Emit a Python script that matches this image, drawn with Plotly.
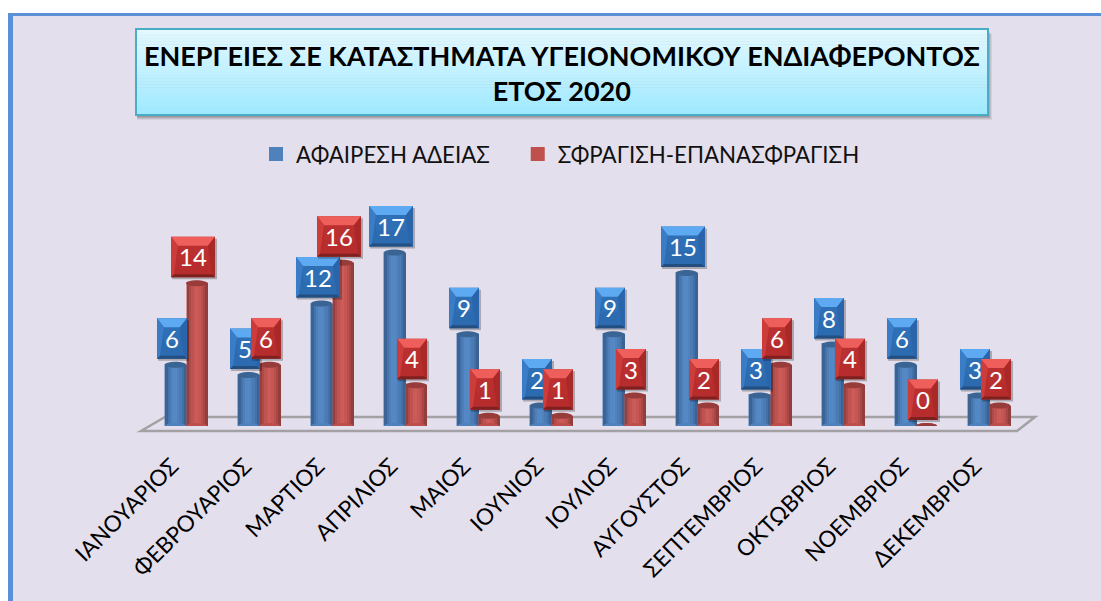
import plotly.graph_objects as go

months = ["ΙΑΝΟΥΑΡΙΟΣ", "ΦΕΒΡΟΥΑΡΙΟΣ", "ΜΑΡΤΙΟΣ", "ΑΠΡΙΛΙΟΣ", "ΜΑΙΟΣ", "ΙΟΥΝΙΟΣ",
          "ΙΟΥΛΙΟΣ", "ΑΥΓΟΥΣΤΟΣ", "ΣΕΠΤΕΜΒΡΙΟΣ", "ΟΚΤΩΒΡΙΟΣ", "ΝΟΕΜΒΡΙΟΣ", "ΔΕΚΕΜΒΡΙΟΣ"]
license_removal = [6, 5, 12, 17, 9, 2, 9, 15, 3, 8, 6, 3]
sealing = [14, 6, 16, 4, 1, 1, 3, 2, 6, 4, 0, 2]
name_a = "ΑΦΑΙΡΕΣΗ ΑΔΕΙΑΣ"
name_b = "ΣΦΡΑΓΙΣΗ-ΕΠΑΝΑΣΦΡΑΓΙΣΗ"
title_text = "ΕΝΕΡΓΕΙΕΣ ΣΕ ΚΑΤΑΣΤΗΜΑΤΑ ΥΓΕΙΟΝΟΜΙΚΟΥ ΕΝΔΙΑΦΕΡΟΝΤΟΣ<br>ΕΤΟΣ 2020"

W, H = 1101, 601
FONT = "Lato, Noto Sans"
px, py = (lambda v: v / W), (lambda v: 1 - v / H)
x = list(range(12))
BAR = 0.288
UNIT = 1 / 73
blue_shades = ["#3A6496", "#4673AA", "#4E7FB9", "#5488C4", "#5589C5", "#5082BE", "#4B7BB5", "#4370A6", "#3A6394"]
red_shades = ["#94403E", "#AE4B49", "#BE5350", "#CA5A57", "#CC5C59", "#C65653", "#BA4F4C", "#A84745", "#913E3C"]

fig = go.Figure()
shapes = []
annots = []

def rect(x0, y0, x1, y1, color, layer="below", opacity=1, line=None):
    return dict(type="rect", xref="paper", yref="paper", x0=px(x0), x1=px(x1), y0=py(y0), y1=py(y1),
                fillcolor=color, opacity=opacity, layer=layer, line=line or dict(width=0))

# page frame
shapes += [rect(0, 0, W, 13, "white"), rect(0, 0, 8, H, "white"),
           rect(8, 13, W, 16, "#5B8FD6"), rect(8, 13, 13, H, "#5B8FD6")]

# floor
f = [(141, 431), (165, 417), (1035, 417), (1017, 431)]
shapes.append(dict(type="path", xref="paper", yref="paper", layer="below",
                   path="M " + " L ".join(f"{px(a):.5f},{py(b):.5f}" for a, b in f) + " Z",
                   line=dict(color="#A3A1A3", width=2.5)))

# cylinders, one bar per shaded strip
N = len(blue_shades)
for vals, shades, start, nm, main in [(license_removal, blue_shades, -BAR, name_a + "\u00a0" * 4, "#4F81BD"),
                                      (sealing, red_shades, 0, name_b, "#C0504D")]:
    fig.add_trace(go.Bar(x=x, y=vals, name=nm, width=BAR - 2 * UNIT, offset=start + UNIT,
                         marker=dict(color=main, line=dict(color=main, width=2)), showlegend=True))
    for k, c in enumerate(shades):
        fig.add_trace(go.Bar(x=x, y=vals, width=BAR / N + 0.001, offset=start + k * BAR / N,
                             marker=dict(color=c, line_width=0), showlegend=False, hoverinfo="skip"))

def ell(w, h):
    k = 0.5523
    a, b = w / 2, h / 2
    return (f"M {-a},0 C {-a},{b*k} {-a*k},{b} 0,{b} C {a*k},{b} {a},{b*k} {a},0 "
            f"C {a},{-b*k} {a*k},{-b} 0,{-b} C {-a*k},{-b} {-a},{-b*k} {-a},0 Z")

def anchored(cx, v, path, color, layer="above", opacity=1):
    return dict(type="path", xref="x", yref="y", xsizemode="pixel", ysizemode="pixel",
                xanchor=cx, yanchor=v, path=path, fillcolor=color, layer=layer, opacity=opacity,
                line=dict(width=0))

def poly(pts):
    return "M " + " L ".join(f"{a},{b}" for a, b in pts) + " Z"

for vals, cc, bottom, top in [(license_removal, -BAR / 2, "#4F81BD", "#3A6493"),
                              (sealing, BAR / 2, "#BC4F4C", "#983C3B")]:
    for i, v in enumerate(vals):
        shapes.append(anchored(i + cc, 0, ell(21, 6), bottom))
        shapes.append(anchored(i + cc, v, ell(21, 6), top))

# value boxes
def box(cx, v, txt, pal):
    w = 44 if len(txt) > 1 else 30
    h = 40.5
    g = 6
    a, b = -w / 2, w / 2
    y0, y1 = g, g + h
    bx, tb = 7, 9
    s = []
    s.append(anchored(cx, v, poly([(a + 1, y0 - 2), (b + 2, y0 - 2), (b + 2, y1 - 2), (a + 1, y1 - 2)]), "#000000", opacity=0.25))
    s.append(anchored(cx, v, poly([(a, y0), (b, y0), (b, y1), (a, y1)]), pal["face"]))
    s.append(anchored(cx, v, poly([(a + bx, y0 + 16), (b - bx, y0 + 16), (b - bx, y1 - tb), (a + bx, y1 - tb)]), pal["upper"]))
    s.append(anchored(cx, v, poly([(a, y1), (b, y1), (b - bx, y1 - tb), (a + bx, y1 - tb)]), pal["top"]))
    s.append(anchored(cx, v, poly([(a, y1), (a + bx, y1 - tb), (a + 3, y0 + 3), (a, y0)]), pal["left"]))
    s.append(anchored(cx, v, poly([(b, y1), (b - bx, y1 - tb), (b - 3, y0 + 3), (b, y0)]), pal["right"]))
    s.append(anchored(cx, v, poly([(a, y0), (b, y0), (b - 3, y0 + 3), (a + 3, y0 + 3)]), pal["bottom"]))
    annots.append(dict(x=cx, y=v, xref="x", yref="y", yshift=g + h / 2, text=txt, showarrow=False,
                       font=dict(family=FONT, size=24, color="white"), xanchor="center", yanchor="middle"))
    return s

blue_pal = dict(face="#2C6BB0", upper="#2F6FB6", top="#5DAAF2", left="#3A7CC6", right="#2A64AA", bottom="#234E80")
red_pal = dict(face="#B72D2D", upper="#BA2F2F", top="#EE5F5C", left="#CC3C3A", right="#A92828", bottom="#7E2020")
OFF = 3.5 / 73
for i, v in enumerate(license_removal):
    shapes += box(i - BAR / 2 - OFF, v, str(v), blue_pal)
for i, v in enumerate(sealing):
    shapes += box(i + BAR / 2 - OFF, v, str(v), red_pal)

# title box
TX0, TX1, TY0, TY1 = 136, 988, 29, 115
for d, op in [(5, 0.07), (4, 0.08), (3, 0.1), (2, 0.12)]:
    shapes.append(rect(TX0 + 1, TY0 + d, TX1 + d - 1, TY1 + d, "#000000", layer="above", opacity=op))
STR = 28
for k in range(STR):
    t = k / (STR - 1)
    c = tuple(round(a + (b - a) * t) for a, b in zip((0xE3, 0xF8, 0xFF), (0x9F, 0xE9, 0xFF)))
    y0 = TY0 + (TY1 - TY0) * k / STR
    y1 = TY0 + (TY1 - TY0) * (k + 1) / STR + 0.5
    shapes.append(rect(TX0, y0, TX1, min(y1, TY1), "rgb(%d,%d,%d)" % c, layer="above"))
shapes.append(dict(type="rect", xref="paper", yref="paper", x0=px(TX0), x1=px(TX1), y0=py(TY0), y1=py(TY1),
                   layer="above", line=dict(color="#4BACC6", width=2)))
annots.append(dict(x=px(562), y=py(73), xref="paper", yref="paper", xanchor="center", yanchor="middle",
                   text="<b>" + title_text.replace("<br>", "</b><br><b>") + "</b>",
                   showarrow=False, align="center", font=dict(family=FONT, size=27, color="black")))

fig.update_layout(
    width=W, height=H, margin=dict(l=0, r=0, t=0, b=0), paper_bgcolor="#E4DFEC", plot_bgcolor="rgba(0,0,0,0)",
    barmode="overlay", bargap=0, showlegend=True, shapes=shapes, annotations=annots,
    font=dict(family=FONT, color="black"),
    legend=dict(orientation="h", x=px(256), y=py(154), xanchor="left", yanchor="middle",
                font=dict(family=FONT, size=22.3, color="#111111"), bgcolor="rgba(0,0,0,0)"),
    xaxis=dict(domain=[px(149.5), px(1025.5)], range=[-0.5, 11.5], tickmode="array", tickvals=x, ticktext=months,
               tickangle=-45, tickfont=dict(family=FONT, size=22.5, color="black"), showgrid=False, zeroline=False,
               showline=False, ticks="outside", ticklen=17, tickcolor="rgba(0,0,0,0)", automargin=False,
               ticklabelshift=-14),
    yaxis=dict(domain=[py(426), py(171)], range=[0, 25], visible=False, showgrid=False, zeroline=False),
)
fig.write_html("out.html", post_script="document.body.style.margin='0';", config=dict(displayModeBar=False))
